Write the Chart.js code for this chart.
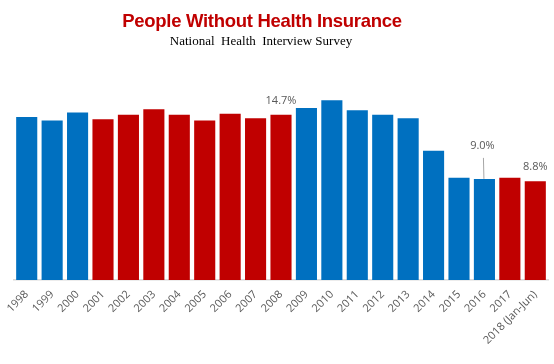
<!DOCTYPE html>
<html>
<head>
<meta charset="utf-8">
<script src="https://cdn.jsdelivr.net/npm/chart.js@4.4.0/dist/chart.umd.min.js"></script>
<style>
  html, body { margin: 0; padding: 0; background: #fff; }
  #wrap { position: relative; width: 554px; height: 364px; }
  #title { position: absolute; left: 0; width: 524px; top: 9px; text-align: center;
    font-family: "Liberation Sans", Arial, sans-serif; font-weight: bold; font-size: 18.5px;
    color: #c00000; letter-spacing: -0.3px; line-height: 24px; white-space: nowrap; }
  #subtitle { position: absolute; left: 0; width: 522px; top: 32px; text-align: center;
    font-family: "Liberation Serif", "Times New Roman", serif; font-size: 13px;
    color: #000; line-height: 18px; white-space: pre; }
  canvas { position: absolute; left: 0; top: 0; }
</style>
</head>
<body>
<div id="wrap">
  <canvas id="c" width="554" height="364"></canvas>
  <div id="title">People Without Health Insurance</div>
  <div id="subtitle">National  Health  Interview Survey</div>
</div>
<script>
const categories = ["1998","1999","2000","2001","2002","2003","2004","2005","2006","2007","2008",
  "2009","2010","2011","2012","2013","2014","2015","2016","2017","2018 (Jan-Jun)"];
const uninsuredPct = [14.5,14.2,14.9,14.3,14.7,15.2,14.7,14.2,14.8,14.4,14.7,
  15.3,16.0,15.1,14.7,14.4,11.5,9.1,9.0,9.1,8.8];
const party = ["D","D","D","R","R","R","R","R","R","R","R",
  "D","D","D","D","D","D","D","D","R","R"];
const labelled = [10, 18, 20];

const BLUE = "#0070c0", RED = "#c00000";

const labelPlugin = {
  id: "valueLabels",
  afterDatasetsDraw(chart) {
    const ctx = chart.ctx;
    const meta = chart.getDatasetMeta(0);
    ctx.save();
    ctx.font = "11px 'Open Sans', sans-serif";
    ctx.fillStyle = "#595959";
    ctx.textAlign = "center";
    ctx.textBaseline = "middle";
    labelled.forEach(i => {
      const el = meta.data[i];
      const txt = uninsuredPct[i].toFixed(1) + "%";
      if (i === 18) {
        ctx.strokeStyle = "#a6a6a6";
        ctx.lineWidth = 1;
        ctx.beginPath();
        ctx.moveTo(el.x - 1, el.y - 21);
        ctx.lineTo(el.x - 0.5, el.y);
        ctx.stroke();
        ctx.fillText(txt, el.x - 2, el.y - 33);
      } else {
        ctx.fillText(txt, el.x, el.y - 14);
      }
    });
    ctx.restore();
  }
};

new Chart(document.getElementById("c"), {
  type: "bar",
  data: {
    labels: categories,
    datasets: [{
      data: uninsuredPct,
      backgroundColor: party.map(p => p === "D" ? BLUE : RED),
      barPercentage: 0.83,
      categoryPercentage: 1.0
    }]
  },
  options: {
    responsive: false,
    animation: false,
    layout: { padding: { top: 89, left: 14, right: 6, bottom: 0 } },
    plugins: { legend: { display: false }, tooltip: { enabled: false } },
    scales: {
      y: { display: false, min: 0, max: 17 },
      x: {
        grid: { display: false, drawTicks: false },
        border: { display: true, color: "#d9d9d9", width: 1.5 },
        ticks: {
          color: "#595959",
          font: { family: "'Open Sans', sans-serif", size: 11 },
          maxRotation: 45, minRotation: 45,
          autoSkip: false,
          padding: 8
        },
        afterFit(scale) {
          scale.height = 84;
          scale.paddingLeft = 0;
          scale.paddingRight = 0;
        }
      }
    }
  },
  plugins: [labelPlugin]
});
</script>
</body>
</html>
